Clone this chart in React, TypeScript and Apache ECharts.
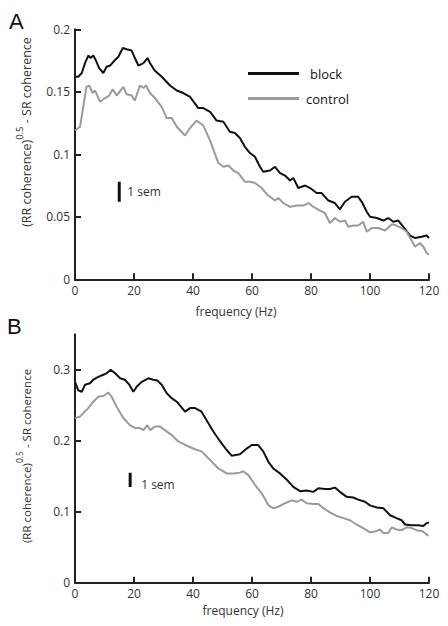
import React, { useEffect, useRef } from "react";
import * as echarts from "echarts";

// frequency (Hz), value pairs
const blockA: [number, number][] = [
  [0, 0.162], [1.1, 0.162], [2.3, 0.165], [3.4, 0.173], [4.5, 0.179], [5.3, 0.177], [6.2, 0.179], [7.1, 0.175],
  [8.2, 0.169], [9.6, 0.165], [10.7, 0.17], [11.9, 0.171], [13, 0.174], [14.7, 0.178], [16.2, 0.185], [17.5, 0.184],
  [19.2, 0.183], [20.3, 0.177], [21.5, 0.171], [23.2, 0.173], [24.6, 0.177], [25.4, 0.173], [27, 0.167], [29.4, 0.162],
  [32.2, 0.155], [34.5, 0.151], [36.7, 0.149], [39, 0.146], [41.8, 0.137], [43.5, 0.137], [45.8, 0.134], [48, 0.127],
  [50.3, 0.126], [52.5, 0.118], [54.2, 0.117], [55.9, 0.113], [57.6, 0.106], [59.3, 0.101], [61, 0.098], [62.7, 0.09],
  [63.8, 0.086], [66.1, 0.087], [67.8, 0.09], [69.5, 0.085], [71.2, 0.083], [72.9, 0.079], [74, 0.081], [75.7, 0.073],
  [78, 0.075], [79.7, 0.073], [81.9, 0.069], [83.6, 0.069], [85.9, 0.063], [88.1, 0.061], [89.8, 0.056], [91.5, 0.062],
  [93.8, 0.066], [96, 0.066], [97.2, 0.062], [98.9, 0.054], [100, 0.05], [102.3, 0.049], [104.5, 0.047], [106.2, 0.049],
  [107.9, 0.046], [109.6, 0.047], [111.3, 0.042], [113.6, 0.035], [115.3, 0.033], [117.5, 0.034], [119.2, 0.035], [120, 0.033],
];

const controlA: [number, number][] = [
  [0, 0.119], [1.7, 0.122], [2.8, 0.138], [3.9, 0.154], [4.8, 0.155], [6, 0.149], [6.8, 0.151], [8.5, 0.142],
  [10.2, 0.145], [11.6, 0.147], [12.8, 0.152], [14.1, 0.147], [16.4, 0.154], [17.5, 0.148], [19.2, 0.147], [20.3, 0.143],
  [22, 0.155], [23.2, 0.153], [24.1, 0.155], [25.4, 0.149], [27.1, 0.145], [29.4, 0.138], [31.1, 0.129], [32.8, 0.129],
  [34.5, 0.122], [37.3, 0.115], [39, 0.121], [41.2, 0.127], [43.5, 0.123], [45.8, 0.111], [48.6, 0.093], [50.3, 0.09],
  [52, 0.091], [53.7, 0.087], [55.4, 0.085], [57.6, 0.078], [59.3, 0.078], [61, 0.077], [63.3, 0.073], [65.5, 0.067],
  [67.8, 0.063], [68.9, 0.065], [70.6, 0.061], [72.9, 0.058], [75.2, 0.059], [77.4, 0.059], [79.1, 0.061], [80.8, 0.058],
  [83.1, 0.055], [84.7, 0.053], [86.4, 0.045], [88.1, 0.049], [89.8, 0.046], [91.5, 0.047], [92.7, 0.042], [94.4, 0.043],
  [96, 0.043], [97.7, 0.046], [98.9, 0.038], [100.6, 0.041], [102.8, 0.041], [105.1, 0.039], [107.4, 0.044], [109, 0.043],
  [110.7, 0.041], [112.4, 0.038], [114.1, 0.031], [115.3, 0.026], [116.9, 0.029], [118.1, 0.026], [119.2, 0.021], [120, 0.02],
];

const blockB: [number, number][] = [
  [0, 0.283], [1.1, 0.271], [2.3, 0.269], [3.4, 0.279], [5.1, 0.281], [6.2, 0.286], [7.9, 0.29], [9.6, 0.293],
  [10.7, 0.295], [12.1, 0.3], [13.6, 0.295], [15.3, 0.288], [16.9, 0.286], [18.4, 0.279], [19.8, 0.269], [20.9, 0.276],
  [22.6, 0.283], [24.9, 0.288], [26.5, 0.286], [27.9, 0.285], [29.4, 0.279], [31.1, 0.267], [32.8, 0.26], [34.5, 0.255],
  [37.3, 0.241], [39, 0.246], [40.7, 0.246], [42.9, 0.241], [44.6, 0.229], [46.9, 0.213], [49.2, 0.199], [51.4, 0.187],
  [53.1, 0.179], [55.9, 0.181], [58.2, 0.189], [59.9, 0.194], [62.1, 0.194], [63.8, 0.185], [65.6, 0.17], [67.2, 0.161],
  [69.5, 0.154], [71.8, 0.145], [74, 0.135], [76.3, 0.129], [78.5, 0.13], [80.8, 0.128], [82.5, 0.133], [84.7, 0.132],
  [86.4, 0.132], [88.1, 0.134], [89.8, 0.128], [92.1, 0.121], [94.3, 0.12], [96, 0.117], [98.3, 0.114], [100, 0.109],
  [102.3, 0.106], [104.5, 0.105], [106.8, 0.095], [109, 0.091], [110.7, 0.088], [111.9, 0.082], [114.1, 0.081], [116.4, 0.081],
  [118.1, 0.08], [119.2, 0.084], [120, 0.085],
];

const controlB: [number, number][] = [
  [0, 0.232], [1.7, 0.234], [2.8, 0.239], [4.5, 0.246], [6.2, 0.255], [7.9, 0.262], [9.6, 0.263], [11.3, 0.268],
  [12.4, 0.262], [14.1, 0.248], [16.4, 0.232], [18.6, 0.222], [20.3, 0.218], [22, 0.218], [23.2, 0.215], [24.5, 0.222],
  [25.4, 0.215], [27.1, 0.22], [28.8, 0.22], [30.5, 0.215], [32.8, 0.208], [35, 0.199], [37.9, 0.193], [40.7, 0.188],
  [42.9, 0.185], [45.8, 0.173], [48.6, 0.161], [51.4, 0.154], [53.7, 0.154], [55.9, 0.155], [57, 0.157], [58.7, 0.152],
  [61, 0.138], [63.3, 0.126], [65.6, 0.109], [67.2, 0.105], [68.9, 0.107], [71.2, 0.112], [73.5, 0.116], [75.2, 0.114],
  [76.8, 0.117], [78.5, 0.112], [80.8, 0.111], [82.5, 0.111], [84.2, 0.105], [86.4, 0.099], [88.7, 0.094], [91, 0.091],
  [93.2, 0.088], [95.5, 0.082], [97.7, 0.077], [100, 0.071], [101.7, 0.072], [103.4, 0.075], [104.5, 0.07], [106.2, 0.07],
  [107.4, 0.078], [109, 0.075], [110.7, 0.074], [112.4, 0.078], [114.1, 0.077], [115.8, 0.074], [117.5, 0.073], [118.6, 0.07],
  [119.8, 0.066],
];

// "1 sem" scale bars (frequency, value)
const semBarA: [number, number][] = [[15, 0.062], [15, 0.078]];
const semLabelA: [number, number] = [15, 0.07];
const semBarB: [number, number][] = [[18.7, 0.135], [18.7, 0.155]];
const semLabelB: [number, number] = [18.7, 0.139];

const xTicks = [0, 20, 40, 60, 80, 100, 120];
const yTicksA = [0, 0.05, 0.1, 0.15, 0.2];
const yTicksB = [0, 0.1, 0.2, 0.3];

const seriesNames = ["block", "control"];
const xTitle = "frequency (Hz)";
const semText = "1 sem";
const panelLabels = ["A", "B"];

const FONT = "'Open Sans', 'DejaVu Sans', sans-serif";
const BLACK = "#111111";
const GRAY = "#9a9a9a";
const AXIS = "#222222";
const TEXT = "#333333";

export default function App() {
  const ref = useRef<HTMLDivElement>(null);

  useEffect(() => {
    if (!ref.current) return;
    const chart = echarts.init(ref.current, undefined, { renderer: "svg" });

    const xAxisBase = (gridIndex: number) => ({
      type: "value" as const,
      gridIndex,
      min: 0,
      max: 120,
      interval: 20,
      axisLine: { show: true, lineStyle: { color: AXIS, width: 2 } },
      axisTick: { show: true, inside: true, length: 6, lineStyle: { color: AXIS, width: 2 }, customValues: xTicks },
      axisLabel: { color: TEXT, fontSize: 12, fontFamily: FONT, margin: 5, customValues: xTicks },
      splitLine: { show: false },
    });

    const yAxisBase = (gridIndex: number, max: number, ticks: number[]) => ({
      type: "value" as const,
      gridIndex,
      min: 0,
      max,
      axisLine: { show: true, lineStyle: { color: AXIS, width: 2 } },
      axisTick: { show: true, inside: true, length: 6, lineStyle: { color: AXIS, width: 2 }, customValues: ticks },
      axisLabel: { color: TEXT, fontSize: 12, fontFamily: FONT, margin: 5, customValues: ticks },
      splitLine: { show: false },
    });

    const yTitleRich = (size: number) => ({
      a: { fontSize: size, fontFamily: FONT, fill: TEXT, lineHeight: size + 10, verticalAlign: "middle" },
      s: { fontSize: size - 3, fontFamily: FONT, fill: TEXT, lineHeight: size + 10, verticalAlign: "top" },
    });

    chart.setOption({
      animation: false,
      backgroundColor: "#ffffff",
      grid: [
        { left: 75, width: 354, top: 29.3, height: 250, outerBoundsMode: "none" },
        { left: 75, width: 354, top: 334.3, height: 248.4, outerBoundsMode: "none" },
      ],
      xAxis: [xAxisBase(0), xAxisBase(1)],
      yAxis: [yAxisBase(0, 0.2, yTicksA), yAxisBase(1, 0.35, yTicksB)],
      legend: {
        orient: "vertical",
        left: 243,
        top: 62,
        icon: "rect",
        itemWidth: 51,
        itemHeight: 3,
        itemGap: 12,
        selectedMode: false,
        textStyle: { color: "#111", fontSize: 13, fontFamily: FONT },
        data: [
          { name: seriesNames[0], textStyle: { padding: [0, 0, 0, 6] } },
          { name: seriesNames[1], textStyle: { padding: [0, 0, 0, 2] } },
        ],
      },
      series: [
        { name: seriesNames[0], type: "line", xAxisIndex: 0, yAxisIndex: 0, data: blockA, showSymbol: false, symbol: "none", lineStyle: { color: BLACK, width: 2 }, itemStyle: { color: BLACK } },
        { name: seriesNames[1], type: "line", xAxisIndex: 0, yAxisIndex: 0, data: controlA, showSymbol: false, symbol: "none", lineStyle: { color: GRAY, width: 2 }, itemStyle: { color: GRAY } },
        { name: seriesNames[0], type: "line", xAxisIndex: 1, yAxisIndex: 1, data: blockB, showSymbol: false, symbol: "none", lineStyle: { color: BLACK, width: 2 }, itemStyle: { color: BLACK } },
        { name: seriesNames[1], type: "line", xAxisIndex: 1, yAxisIndex: 1, data: controlB, showSymbol: false, symbol: "none", lineStyle: { color: GRAY, width: 2 }, itemStyle: { color: GRAY } },
        { name: "semA", type: "line", xAxisIndex: 0, yAxisIndex: 0, data: semBarA, symbol: "none", lineStyle: { color: BLACK, width: 3 } },
        { name: "semB", type: "line", xAxisIndex: 1, yAxisIndex: 1, data: semBarB, symbol: "none", lineStyle: { color: BLACK, width: 3 } },
      ],
      graphic: [
        { id: "pA", type: "text", left: 9, top: 10, style: { text: panelLabels[0], fontSize: 22, fontFamily: "'Liberation Sans', Arial, sans-serif", fill: "#111" } },
        { id: "pB", type: "text", left: 7, top: 315, style: { text: panelLabels[1], fontSize: 22, fontFamily: "'Liberation Sans', Arial, sans-serif", fill: "#111" } },
        { id: "xtA", type: "text", x: 236, y: 311, style: { text: xTitle, fontSize: 12, fontFamily: FONT, fill: TEXT, align: "center", verticalAlign: "middle" } },
        { id: "xtB", type: "text", x: 243, y: 610, style: { text: xTitle, fontSize: 12, fontFamily: FONT, fill: TEXT, align: "center", verticalAlign: "middle" } },
        {
          id: "ytA", type: "text", x: 26, y: 132, rotation: Math.PI / 2,
          style: { text: "{a|(RR coherence)}{s|0.5}{a| - SR coherence}", align: "center", verticalAlign: "middle", rich: yTitleRich(12.5) },
        },
        {
          id: "ytB", type: "text", x: 26, y: 456, rotation: Math.PI / 2,
          style: { text: "{a|(RR coherence)}{s|0.5}{a| - SR coherence}", align: "center", verticalAlign: "middle", rich: yTitleRich(11.5) },
        },
      ],
    });

    // "1 sem" labels placed next to the scale bars through the chart's own coordinate conversion
    const pA = chart.convertToPixel({ gridIndex: 0 }, semLabelA) as number[];
    const pB = chart.convertToPixel({ gridIndex: 1 }, semLabelB) as number[];
    chart.setOption({
      graphic: [
        { id: "semTextA", type: "text", x: pA[0] + 8, y: pA[1], style: { text: semText, fontSize: 12, fontFamily: FONT, fill: TEXT, verticalAlign: "middle" } },
        { id: "semTextB", type: "text", x: pB[0] + 11, y: pB[1], style: { text: semText, fontSize: 12, fontFamily: FONT, fill: TEXT, verticalAlign: "middle" } },
      ],
    });

    return () => chart.dispose();
  }, []);

  return (
    <div
      ref={ref}
      style={{ position: "fixed", left: 0, top: 0, width: 448, height: 626, background: "#fff" }}
    />
  );
}
